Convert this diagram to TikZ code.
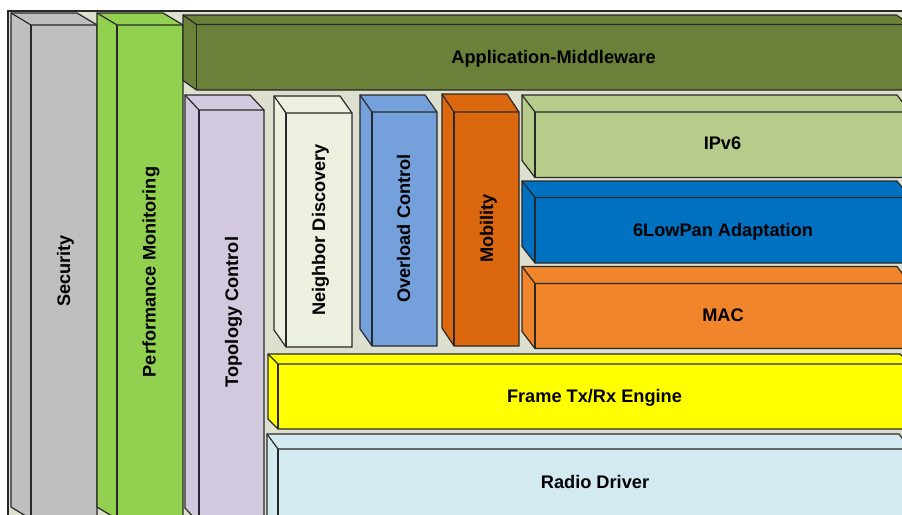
\documentclass[tikz,border=0pt]{standalone}
\usepackage{fontspec}
\setmainfont{Liberation Sans}
\definecolor{panelbg}{RGB}{221,224,206}
\definecolor{secgray}{RGB}{191,191,191}
\definecolor{perfgreen}{RGB}{146,208,80}
\definecolor{appolive}{RGB}{107,128,57}
\definecolor{topolav}{RGB}{211,201,223}
\definecolor{neighcream}{RGB}{235,240,223}
\definecolor{overblue}{RGB}{116,160,219}
\definecolor{mobiorange}{RGB}{219,104,14}
\definecolor{ipgreen}{RGB}{183,204,138}
\definecolor{lowblue}{RGB}{0,112,192}
\definecolor{macorange}{RGB}{240,133,43}
\definecolor{frameyellow}{RGB}{255,255,0}
\definecolor{radiocyan}{RGB}{210,234,240}
\definecolor{edgegray}{RGB}{40,40,40}
\tikzset{
  boxedge/.style={draw=edgegray, line width=1.2pt, line join=miter},
  lbl/.style={font=\fontsize{18.2}{20}\selectfont\bfseries, text=black,
    inner sep=0pt, text depth=0pt},
  vlbl/.style={lbl, rotate=90},
}
% 3D layer box: fill, back-left x, back-top y, depth dx, depth dy, front right x, front bottom y
\newcommand{\layerbox}[7]{%
  \filldraw[boxedge, fill=#1] (#2,#3) -- ({#6-#4},#3) -- (#6,{#3+#5}) -- (#6,#7)
    -- ({#2+#4},#7) -- (#2,{#7-#5}) -- cycle;
  \draw[boxedge] (#2,#3) -- ({#2+#4},{#3+#5}) -- (#6,{#3+#5});
  \draw[boxedge] ({#2+#4},{#3+#5}) -- ({#2+#4},#7);
}
\begin{document}
\begin{tikzpicture}[x=1pt, y=-1pt]
\useasboundingbox (0,0) rectangle (902,514);
\clip (0,0) rectangle (902,514);
% backdrop panel
\filldraw[boxedge, fill=panelbg] (8,11) rectangle (930,540);

% vertical service columns
\layerbox{secgray}{11}{13}{20}{12}{97}{519}
\layerbox{perfgreen}{97}{13}{20}{12}{183}{519}
\layerbox{topolav}{185}{95}{14}{15}{264}{523}

% application layer
\layerbox{appolive}{183}{15}{13.5}{9.5}{910}{90}

% network-layer blocks
\layerbox{neighcream}{274}{96}{12}{17}{352}{347}
\layerbox{overblue}{360}{95}{12}{17}{437}{346}
\layerbox{mobiorange}{442}{94}{12}{18}{519}{346}

% protocol stack
\layerbox{ipgreen}{522}{95}{13}{17}{910}{177.5}
\layerbox{lowblue}{522}{181}{13}{16.5}{910}{263}
\layerbox{macorange}{522}{266.5}{13}{17}{910}{348.5}
\layerbox{frameyellow}{268}{354}{10}{10}{910}{429}
\layerbox{radiocyan}{267}{434}{11}{15}{910}{530}

% labels
\node[vlbl] (security) at (63.5,271) {Security};
\node[vlbl] (perfmon) at (149,272) {Performance Monitoring};
\node[vlbl] (topo) at (231.5,312) {Topology Control};
\node[lbl] (appmw) at (553.5,57) {Application-Middleware};
\node[vlbl] (neigh) at (318.5,230) {Neighbor Discovery};
\node[vlbl] (overload) at (403.5,228.5) {Overload Control};
\node[vlbl] (mobility) at (486.5,228.5) {Mobility};
\node[lbl] (ipv6) at (722.5,143.5) {IPv6};
\node[lbl] (lowpan) at (723,230) {6LowPan Adaptation};
\node[lbl] (mac) at (723,315.5) {MAC};
\node[lbl] (frame) at (594.5,396) {Frame Tx/Rx Engine};
\node[lbl] (radio) at (595,482) {Radio Driver};
\end{tikzpicture}
\end{document}
